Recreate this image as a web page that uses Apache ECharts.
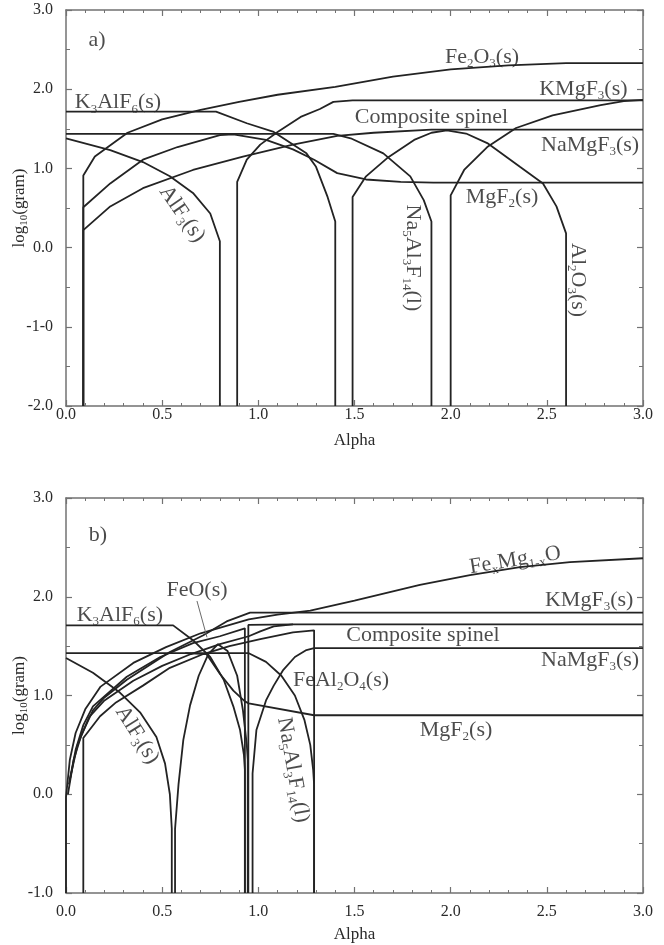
<!DOCTYPE html>
<html>
<head>
<meta charset="utf-8">
<script src="https://cdn.jsdelivr.net/npm/echarts@6/dist/echarts.min.js"></script>
<style>
  html, body { margin: 0; padding: 0; background: #fff; }
  #chart { width: 664px; height: 945px; }
</style>
</head>
<body>
<div id="chart"></div>
<script>
// ---- panel a) curves [alpha, log10(gram)] ----
const aK3AlF6 = [[0,1.716],[0.78,1.716],[0.94,1.57],[1.08,1.46],[1.25,1.19],[1.30,1.02],[1.36,0.64],[1.40,0.33],[1.40,-2]]
const aAlF3 = [[0,1.38],[0.23,1.23],[0.40,1.08],[0.54,0.90],[0.66,0.69],[0.75,0.43],[0.80,0.08],[0.80,-2]]
const aNa5Al3F14 = [[0,1.435],[1.39,1.435],[1.48,1.38],[1.65,1.19],[1.79,0.90],[1.86,0.60],[1.90,0.33],[1.90,-2]]
const aFe2O3 = [[0.09,-2],[0.09,0.91],[0.15,1.15],[0.32,1.45],[0.5,1.62],[0.7,1.74],[0.9,1.84],[1.1,1.93],[1.4,2.03],[1.7,2.16],[2.0,2.25],[2.3,2.30],[2.6,2.33],[3.0,2.33]]
const aMgF2 = [[0.09,-2],[0.09,0.51],[0.23,0.81],[0.40,1.11],[0.58,1.27],[0.80,1.42],[0.87,1.43],[1.04,1.36],[1.18,1.24],[1.29,1.11],[1.41,0.94],[1.56,0.86],[1.74,0.83],[1.91,0.82],[3.0,0.82]]
const aNaMgF3 = [[0.09,-2],[0.09,0.22],[0.23,0.52],[0.40,0.75],[0.66,0.98],[0.92,1.15],[1.18,1.30],[1.41,1.41],[1.6,1.45],[1.9,1.49],[3.0,1.49]]
const aKMgF3 = [[0.89,-2],[0.89,0.83],[0.94,1.11],[1.01,1.30],[1.10,1.46],[1.22,1.65],[1.32,1.75],[1.39,1.84],[1.49,1.86],[3.0,1.86]]
const aAl2O3 = [[1.49,-2],[1.49,0.64],[1.56,0.90],[1.67,1.13],[1.81,1.36],[1.90,1.45],[1.98,1.48],[2.08,1.44],[2.19,1.32],[2.36,1.02],[2.48,0.81],[2.55,0.52],[2.60,0.18],[2.60,-2]]
const aSpinel = [[2.0,-2],[2.0,0.66],[2.07,0.98],[2.19,1.27],[2.34,1.51],[2.53,1.67],[2.78,1.80],[2.9,1.85],[3.0,1.865]]

// ---- panel b) curves ----
const bK3AlF6 = [[0,1.71],[0.557,1.71],[0.66,1.56],[0.75,1.39],[0.82,1.16],[0.87,0.89],[0.905,0.65],[0.925,0.40],[0.93,0.25],[0.93,-1]]
const bAlF3 = [[0,1.38],[0.14,1.23],[0.28,1.03],[0.385,0.83],[0.47,0.58],[0.515,0.31],[0.54,0.0],[0.55,-0.35],[0.55,-1]]
const bNa5Al3F14 = [[0,1.43],[0.948,1.43],[1.04,1.34],[1.12,1.20],[1.19,1.0],[1.24,0.75],[1.27,0.5],[1.285,0.25],[1.29,0.1],[1.29,-1]]
const bFeMgO = [[0.0,-1],[0.0,-0.03],[0.02,0.35],[0.05,0.62],[0.1,0.86],[0.18,1.09],[0.35,1.33],[0.52,1.49],[0.70,1.63],[0.95,1.77],[1.1,1.82],[1.27,1.86],[1.5,1.96],[1.84,2.12],[2.10,2.22],[2.36,2.30],[2.62,2.35],[3.0,2.39]]
const bKMgF3 = [[0.01,0.0],[0.04,0.35],[0.08,0.6],[0.14,0.85],[0.2,0.98],[0.316,1.16],[0.54,1.44],[0.714,1.61],[0.835,1.75],[0.957,1.84],[3.0,1.84]]
const bFeO = [[0.015,0.1],[0.05,0.45],[0.09,0.7],[0.14,0.89],[0.316,1.19],[0.49,1.39],[0.66,1.53],[0.80,1.60],[0.93,1.68],[0.93,-1]]
const bSpinel = [[0.02,0.15],[0.06,0.5],[0.12,0.78],[0.2,0.95],[0.35,1.15],[0.5,1.30],[0.65,1.42],[0.8,1.52],[0.95,1.60],[1.01,1.65],[1.08,1.70],[1.18,1.72],[3.0,1.72]]
const bFeAl2O4 = [[0.09,-1],[0.09,0.57],[0.177,0.79],[0.26,0.93],[0.4,1.10],[0.54,1.28],[0.714,1.42],[0.85,1.50],[1.01,1.57],[1.18,1.64],[1.29,1.66],[1.29,-1]]
const bFeOArc = [[0.567,-1],[0.567,-0.35],[0.585,0.1],[0.61,0.55],[0.645,0.9],[0.69,1.2],[0.74,1.42],[0.79,1.52],[0.84,1.45],[0.89,1.2],[0.92,0.85],[0.94,0.5],[0.945,0.35],[0.945,-1]]
const bStep = [[0.948,-1],[0.948,1.715],[1.18,1.72]]
const bMgF2 = [[0.62,1.43],[0.73,1.42],[0.80,1.22],[0.87,1.05],[0.93,0.94],[0.95,0.92],[1.29,0.80],[3.0,0.80]]
const bNaMgF3 = [[0.97,-1],[0.97,0.21],[0.99,0.65],[1.04,0.95],[1.08,1.1],[1.13,1.26],[1.19,1.39],[1.25,1.46],[1.29,1.48],[3.0,1.48]]
const bFeOPointer = [[0.681,1.957],[0.733,1.59]]

// ---- tick labels ----
const xTicks = ['0.0', '0.5', '1.0', '1.5', '2.0', '2.5', '3.0']
const yTicksA = ['-2.0', '-1-0', '0.0', '1.0', '2.0', '3.0']
const yTicksB = ['-1.0', '0.0', '1.0', '2.0', '3.0']

// ---- phase labels: text, alpha, log10(gram), rotation ----
const labelsA = [
  ['a)', 0.161, 2.62, 0],
  ['K_{3}AlF_{6}(s)', 0.27, 1.83, 0],
  ['Fe_{2}O_{3}(s)', 2.163, 2.41, 0],
  ['KMgF_{3}(s)', 2.69, 2.0, 0],
  ['Composite spinel', 1.9, 1.65, 0],
  ['NaMgF_{3}(s)', 2.725, 1.295, 0],
  ['MgF_{2}(s)', 2.267, 0.64, 0],
  ['AlF_{3}(s)', 0.603, 0.424, -55],
  ['Na_{5}Al_{3}F_{14}(l)', 1.804, -0.13, -90],
  ['Al_{2}O_{3}(s)', 2.662, -0.41, -90]
]
const labelsB = [
  ['b)', 0.166, 2.625, 0],
  ['FeO(s)', 0.681, 2.07, 0],
  ['K_{3}AlF_{6}(s)', 0.28, 1.815, 0],
  ['Fe_{x}Mg_{1-x}O', 2.335, 2.37, 9],
  ['KMgF_{3}(s)', 2.72, 1.967, 0],
  ['Composite spinel', 1.856, 1.61, 0],
  ['NaMgF_{3}(s)', 2.725, 1.36, 0],
  ['FeAl_{2}O_{4}(s)', 1.43, 1.157, 0],
  ['MgF_{2}(s)', 2.028, 0.65, 0],
  ['AlF_{3}(s)', 0.37, 0.60, -58],
  ['Na_{5}Al_{3}F_{14}(l)', 1.18, 0.245, -80]
]

const linesA = [aK3AlF6, aAlF3, aNa5Al3F14, aFe2O3, aMgF2, aNaMgF3, aKMgF3, aAl2O3, aSpinel]
const linesB = [bK3AlF6, bAlF3, bNa5Al3F14, bFeMgO, bKMgF3, bFeO, bSpinel, bFeAl2O4, bFeOArc, bStep, bMgF2, bNaMgF3]

const FONT = 'Liberation Serif'
const INK = '#232323'
const FRAME = '#727272'

const toRich = (s) => ('{n|' + s.replace(/_\{([^}]*)\}/g, '}{s|$1}{n|') + '}').replace(/\{n\|\}/g, '')

const richStyle = {
  n: { fontFamily: FONT, fontSize: 22, lineHeight: 26, color: '#1e1e1e' },
  s: { fontFamily: FONT, fontSize: 13, lineHeight: 19, verticalAlign: 'bottom', color: '#1e1e1e' }
}

const xAxis = (grid, pos, show, margin, nameGap) => ({
  type: 'value', gridIndex: grid, position: pos, min: 0, max: 3, interval: 0.5,
  axisLine: { show: true, onZero: false, lineStyle: { color: FRAME, width: 1.5 } },
  axisTick: { show: true, inside: true, length: 6, lineStyle: { color: FRAME, width: 1.2 } },
  minorTick: { show: true, splitNumber: 5, length: 3, lineStyle: { color: FRAME, width: 1 } },
  splitLine: { show: false },
  axisLabel: {
    show: show, margin: margin, fontFamily: FONT, fontSize: 16, color: '#2a2a2a',
    formatter: (v) => xTicks[Math.round(v / 0.5)]
  },
  name: show ? 'Alpha' : '', nameLocation: 'middle', nameGap: nameGap,
  nameTextStyle: { fontFamily: FONT, fontSize: 17, color: '#2a2a2a' }
})

const yAxis = (grid, pos, show, min, ticks) => ({
  type: 'value', gridIndex: grid, position: pos, min: min, max: 3, interval: 1,
  axisLine: { show: true, onZero: false, lineStyle: { color: FRAME, width: 1.5 } },
  axisTick: { show: true, inside: true, length: 6, lineStyle: { color: FRAME, width: 1.2 } },
  minorTick: { show: true, splitNumber: 2, length: 4, lineStyle: { color: FRAME, width: 1 } },
  splitLine: { show: false },
  axisLabel: {
    show: show, margin: 13, fontFamily: FONT, fontSize: 16, color: '#2a2a2a',
    formatter: (v) => ticks[Math.round(v - min)]
  },
  name: show ? '{n|log}{s|10}{n|(gram)}' : '', nameLocation: 'middle', nameGap: 36,
  nameMoveOverlap: false,
  nameTextStyle: {
    rich: {
      n: { fontFamily: FONT, fontSize: 17, lineHeight: 20, color: '#2a2a2a' },
      s: { fontFamily: FONT, fontSize: 11, verticalAlign: 'bottom', lineHeight: 15, color: '#2a2a2a' }
    }
  }
})

const lineSeries = (data, idx) => ({
  type: 'line', data: data, xAxisIndex: idx, yAxisIndex: idx,
  symbol: 'none', silent: true, clip: true,
  lineStyle: { color: INK, width: 1.8 }
})

const labelSeries = (labels, idx) => ({
  type: 'scatter', xAxisIndex: idx, yAxisIndex: idx, symbolSize: 0, silent: true,
  data: labels.map(([text, x, y, rot]) => ({
    value: [x, y],
    label: {
      show: true, position: 'inside', rotate: rot,
      formatter: toRich(text), rich: richStyle
    }
  }))
})

const chart = echarts.init(document.getElementById('chart'))

chart.setOption({
  animation: false,
  backgroundColor: '#ffffff',
  grid: [
    { left: 66, top: 10, width: 577, height: 396, containLabel: false, outerBoundsMode: 'none' },
    { left: 66, top: 498, width: 577, height: 395, containLabel: false, outerBoundsMode: 'none' }
  ],
  xAxis: [
    xAxis(0, 'bottom', true, 1, 26),
    xAxis(0, 'top', false, 0, 0),
    xAxis(1, 'bottom', true, 11, 33),
    xAxis(1, 'top', false, 0, 0)
  ],
  yAxis: [
    yAxis(0, 'left', true, -2, yTicksA),
    yAxis(0, 'right', false, -2, yTicksA),
    yAxis(1, 'left', true, -1, yTicksB),
    yAxis(1, 'right', false, -1, yTicksB)
  ],
  series: [
    ...linesA.map(d => lineSeries(d, 0)),
    ...linesB.map(d => lineSeries(d, 2)),
    {
      type: 'line', data: bFeOPointer, xAxisIndex: 2, yAxisIndex: 2,
      symbol: 'none', silent: true, lineStyle: { color: '#6a6a6a', width: 1 }
    },
    labelSeries(labelsA, 0),
    labelSeries(labelsB, 2)
  ]
})
</script>
</body>
</html>
